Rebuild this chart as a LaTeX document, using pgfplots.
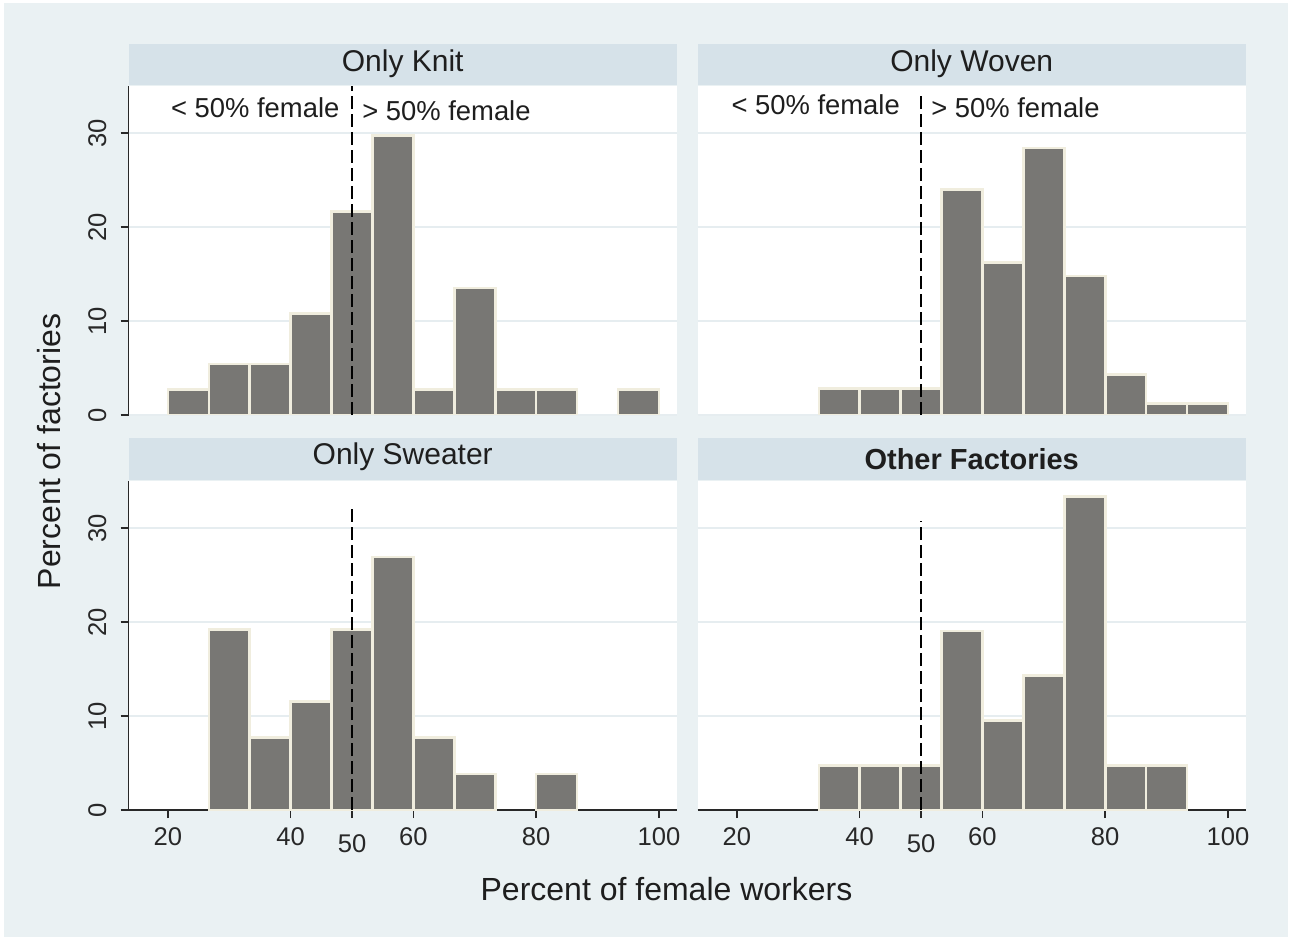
\documentclass[border=0pt]{standalone}
\usepackage{fontspec}
\setmainfont{Liberation Sans}
\usepackage{pgfplots}
\pgfplotsset{compat=1.18}
\definecolor{bgc}{RGB}{234,241,243}
\definecolor{hdrc}{RGB}{214,226,233}
\definecolor{barc}{RGB}{120,119,116}
\definecolor{edgec}{RGB}{240,237,222}
\definecolor{gridc}{RGB}{230,237,240}
\definecolor{axc}{RGB}{40,40,40}
\definecolor{txtc}{RGB}{30,30,30}

\tikzset{ann/.style={font=\fontsize{13.7}{16}\selectfont, text=txtc, inner sep=0pt}}
\pgfplotsset{
  panel/.style={
    scale only axis, width=274pt, height=164.5pt,
    xmin=13.6, xmax=102.9, ymin=0, ymax=35,
    axis background/.style={fill=white},
    axis lines*=left,
    axis line style={axc, line width=0.7pt},
    ytick={0,10,20,30}, yticklabels={0,10,20,30},
    ymajorgrids, major grid style={gridc, line width=0.6pt},
    tick style={axc, line width=0.7pt},
    tick align=outside, major tick length=4pt,
    ytick pos=left, xtick pos=bottom,
    /pgf/number format/assume math mode=true,
    yticklabel style={rotate=90, anchor=south, inner sep=0pt, font=\fontsize{12.8}{14}\selectfont, text=axc},
    xticklabel style={anchor=north, inner sep=0pt, font=\fontsize{12.8}{14}\selectfont, text=axc},
    yticklabel shift=7pt,
    xticklabel shift=4.5pt,
  },
  noxaxis/.style={x axis line style={draw=none}, xtick=\empty},
  noyaxis/.style={y axis line style={draw=none}, yticklabels={}, ytick style={draw=none}},
  withx/.style={xtick={20,40,60,80,100}, xticklabels={20,40,60,80,100},
    extra x ticks={50}, extra x tick labels={50},
    extra x tick style={grid=none, xticklabel style={yshift=-3.5pt}}},
  bars/.style={ybar, bar width=6.6667, bar shift=0pt, fill=barc, draw=edgec, line width=1.3pt},
  cut/.style={black, line width=1pt, dash pattern=on 6.5pt off 2.5pt},
}

\begin{document}
\begin{tikzpicture}
\useasboundingbox (0,0) rectangle (647pt,468.5pt);
\fill[white] (0,0) rectangle (647pt,468.5pt);
\fill[bgc] (2pt,0) rectangle (644pt,467pt);

% Only Knit
\begin{axis}[panel, noxaxis, at={(64.35pt,261pt)}, anchor=south west]
\addplot[bars] coordinates {(23.33,2.70) (30,5.41) (36.67,5.41) (43.33,10.81) (50,21.62) (56.67,29.73) (63.33,2.70) (70,13.51) (76.67,2.70) (83.33,2.70) (96.67,2.70)};
\addplot[cut] coordinates {(50,0) (50,35)};
\node[ann, anchor=base east] at (axis cs:48.0,31.7) {< 50\% female};
\node[ann, anchor=base west] at (axis cs:51.6,31.3) {> 50\% female};
\end{axis}

% Only Woven
\begin{axis}[panel, noxaxis, noyaxis, at={(348.85pt,261pt)}, anchor=south west]
\addplot[bars] coordinates {(36.67,2.8) (43.33,2.8) (50,2.8) (56.67,24.0) (63.33,16.2) (70,28.4) (76.67,14.8) (83.33,4.3) (90,1.2) (96.67,1.2)};
\addplot[cut] coordinates {(50,0) (50,34.1)};
\node[ann, anchor=base east] at (axis cs:46.6,32.0) {< 50\% female};
\node[ann, anchor=base west] at (axis cs:51.6,31.7) {> 50\% female};
\end{axis}

% Only Sweater
\begin{axis}[panel, withx, at={(64.35pt,63.5pt)}, anchor=south west]
\addplot[bars] coordinates {(30,19.23) (36.67,7.69) (43.33,11.54) (50,19.23) (56.67,26.92) (63.33,7.69) (70,3.85) (83.33,3.85)};
\addplot[cut] coordinates {(50,0) (50,32.2)};
\end{axis}

% Other Factories
\begin{axis}[panel, withx, noyaxis, at={(348.85pt,63.5pt)}, anchor=south west]
\addplot[bars] coordinates {(36.67,4.76) (43.33,4.76) (50,4.76) (56.67,19.05) (63.33,9.52) (70,14.29) (76.67,33.33) (83.33,4.76) (90,4.76)};
\addplot[cut] coordinates {(50,0) (50,30.7)};
\end{axis}

% panel headers
\fill[hdrc] (64.35pt,426pt) rectangle (338.35pt,446.5pt);
\fill[hdrc] (348.85pt,426pt) rectangle (622.85pt,446.5pt);
\fill[hdrc] (64.35pt,228.5pt) rectangle (338.35pt,249.5pt);
\fill[hdrc] (348.85pt,228.5pt) rectangle (622.85pt,249.5pt);
\node[anchor=base, inner sep=0pt, text=txtc, font=\fontsize{15}{18}\selectfont] at (201.35pt,432.5pt) {Only Knit};
\node[anchor=base, inner sep=0pt, text=txtc, font=\fontsize{15}{18}\selectfont] at (485.85pt,432.5pt) {Only Woven};
\node[anchor=base, inner sep=0pt, text=txtc, font=\fontsize{15}{18}\selectfont] at (201.35pt,236pt) {Only Sweater};
\node[anchor=base, inner sep=0pt, text=txtc, font=\bfseries\fontsize{14.5}{17}\selectfont] at (485.85pt,233.5pt) {Other Factories};

% axis titles
\node[anchor=base, inner sep=0pt, text=txtc, font=\fontsize{16}{19}\selectfont] at (333.25pt,18.5pt) {Percent of female workers};
\node[rotate=90, anchor=base, inner sep=0pt, text=txtc, font=\fontsize{16}{19}\selectfont] at (30pt,242.75pt) {Percent of factories};
\end{tikzpicture}
\end{document}
